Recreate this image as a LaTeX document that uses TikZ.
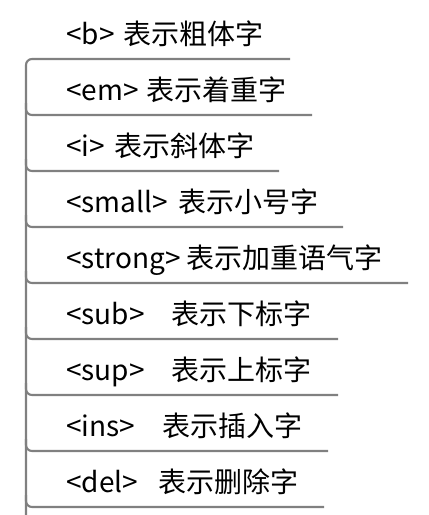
\documentclass[tikz,border=0pt]{standalone}
\usepackage{fontspec}
\setmainfont{Noto Sans CJK SC}
\usepackage{xcolor}
\usetikzlibrary{positioning}
\definecolor{branchgray}{HTML}{808080}

\begin{document}
\begin{tikzpicture}[
  x=1pt,y=-1pt,
  tagtext/.style={anchor=base west,inner sep=0pt,font=\fontsize{28}{32}\selectfont},
  desctext/.style={tagtext},
  branch/.style={draw=branchgray,line width=2.1pt,rounded corners=6pt}
]
\useasboundingbox (0,0) rectangle (429,515);
% --- rows: tag, description, end of underline ---
\foreach \i/\tagtxt/\desctxt/\dx/\ex in {
  1/{<b>}/{表示粗体字}/125/290,
  2/{<em>}/{表示着重字}/148/312,
  3/{<i>}/{表示斜体字}/116/279,
  4/{<small>}/{表示小号字}/180/343,
  5/{<strong>}/{表示加重语气字}/188/408,
  6/{<sub>}/{表示下标字}/173/338,
  7/{<sup>}/{表示上标字}/173/338,
  8/{<ins>}/{表示插入字}/164/328,
  9/{<del>}/{表示删除字}/160/324}{
  \pgfmathsetmacro\ly{59+56*(\i-1)}
  \node[tagtext] (tag\i) at (66,\ly-15) {\tagtxt};
  \node[desctext] (desc\i) at (\dx-1.5,\ly-15) {\desctxt};
  \coordinate (end\i) at (\ex,\ly);
  \coordinate (fork\i) at (26,\ly-12);
}
% --- trunk and branches ---
\coordinate (root) at (26,515);
\draw[branch] (root) |- (end1);
\foreach \i in {2,...,9}{\draw[branch] (fork\i) |- (end\i);}
\end{tikzpicture}
\end{document}
